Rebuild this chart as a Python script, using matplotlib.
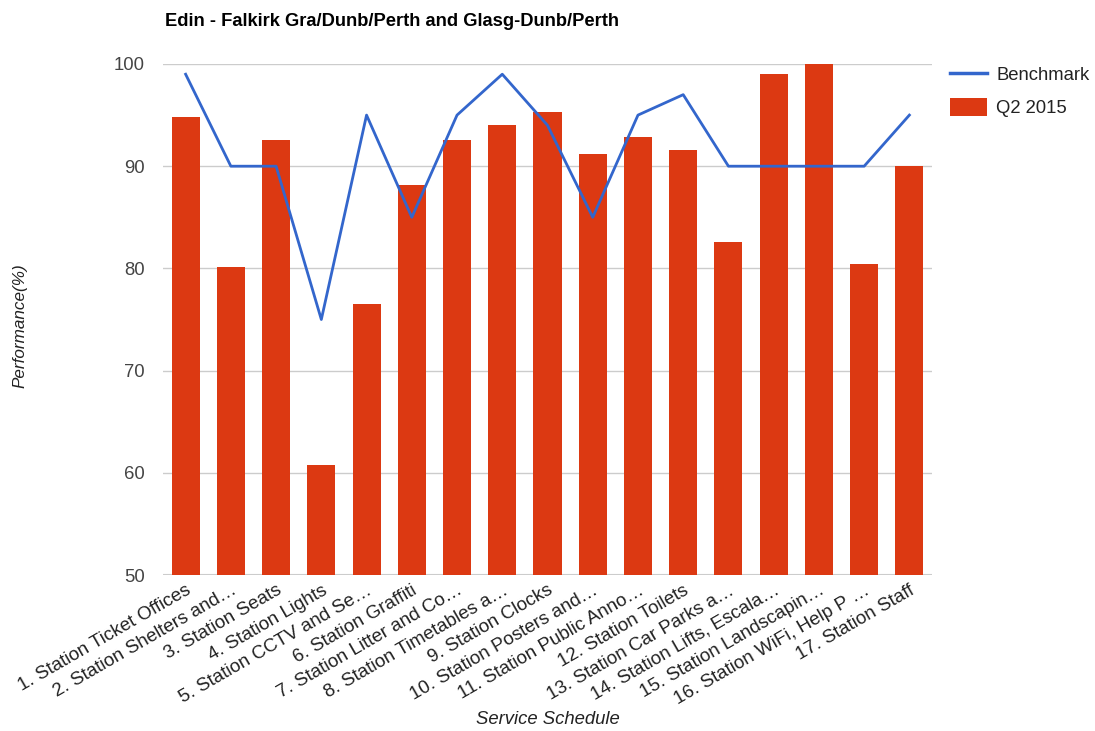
import matplotlib
matplotlib.use("Agg")
import matplotlib.pyplot as plt
from matplotlib.patches import Patch
from matplotlib.lines import Line2D
import numpy as np

plt.rcParams['font.family'] = ['Liberation Sans', 'DejaVu Sans']

categories = [
    "1. Station Ticket Offices",
    "2. Station Shelters and…",
    "3. Station Seats",
    "4. Station Lights",
    "5. Station CCTV and Se…",
    "6. Station Graffiti",
    "7. Station Litter and Co…",
    "8. Station Timetables a…",
    "9. Station Clocks",
    "10. Station Posters and…",
    "11. Station Public Anno…",
    "12. Station Toilets",
    "13. Station Car Parks a…",
    "14. Station Lifts, Escala…",
    "15. Station Landscapin…",
    "16. Station WiFi, Help P …",
    "17. Station Staff",
]
q2_2015 = [94.8, 80.1, 92.6, 60.8, 76.5, 88.2, 92.6, 94.0, 95.3, 91.2, 92.9, 91.6, 82.6, 99.0, 100.0, 80.4, 90.0]
benchmark = [99, 90, 90, 75, 95, 85, 95, 99, 94, 85, 95, 97, 90, 90, 90, 90, 95]
y_ticks = [50, 60, 70, 80, 90, 100]

BAR = '#dc3912'
LINE = '#3366cc'

fig = plt.figure(figsize=(10.95, 7.31), dpi=100)
ax = fig.add_axes([163/1095, 1-575/731, (932-163)/1095, (575-64)/731])

x = np.arange(len(categories))
ax.bar(x, q2_2015, width=0.62, color=BAR, zorder=2)
ax.plot(x, benchmark, color=LINE, lw=2, zorder=3)

ax.set_xlim(-0.5, len(categories) - 0.5)
ax.set_ylim(50, 100)
ax.set_yticks(y_ticks)
ax.set_yticklabels([str(t) for t in y_ticks], fontsize=13.3, color='#444444')
ax.yaxis.grid(True, color='#cccccc', lw=1, zorder=0)
ax.tick_params(axis='y', length=0, pad=13)
ax.tick_params(axis='x', length=0, pad=5)
ax.set_xticks(x)
ax.set_xticklabels(categories, rotation=30, ha='right', rotation_mode='anchor',
                   fontsize=13.5, color='#222222')
for s in ax.spines.values():
    s.set_visible(False)
ax.axhline(50, color='#cccccc', lw=1.5, zorder=1)

fig.text(20/1095, 1-326/731, 'Performance(%)', fontsize=12.3, style='italic',
         color='#222222', ha='center', va='center', rotation=90)
fig.text(548/1095, 1-720/731, 'Service Schedule', fontsize=13.3, style='italic',
         color='#222222', ha='center', va='center')
fig.text(165/1095, 1-22/731, 'Edin - Falkirk Gra/Dunb/Perth and Glasg-Dunb/Perth',
         fontsize=13.2, fontweight='bold', color='#000000', ha='left', va='center')

handles = [Line2D([0], [0], color=LINE, lw=2.5), Patch(facecolor=BAR)]
labels = ['Benchmark', 'Q2 2015']
leg = fig.legend(handles, labels,
                 loc='upper left', bbox_to_anchor=(937/1095, 1-52/731),
                 frameon=False, fontsize=13.3, handlelength=2.0, handleheight=1.1,
                 labelspacing=0.75, handletextpad=0.5, borderpad=0.2)
for t in leg.get_texts():
    t.set_color('#222222')

fig.savefig('out.png', dpi=100)
